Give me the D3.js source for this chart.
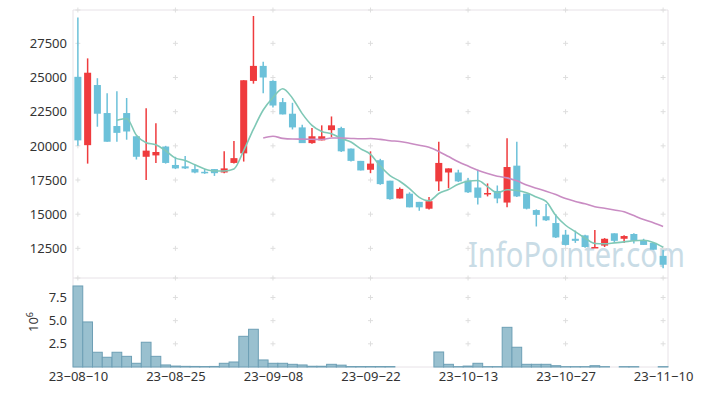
<!DOCTYPE html>
<html>
<head>
<meta charset="utf-8">
<script src="https://cdn.jsdelivr.net/npm/d3@7"></script>
<style>
  body { margin: 0; background: #fff; }
  svg { display: block; font-family: "Noto Sans", "Open Sans", sans-serif; }
</style>
</head>
<body>
<svg width="703" height="396"></svg>
<script>
var dates = [
  "23-08-10","23-08-11","23-08-14","23-08-16","23-08-17","23-08-18","23-08-21","23-08-22","23-08-23","23-08-24",
  "23-08-25","23-08-28","23-08-29","23-08-30","23-08-31","23-09-01","23-09-04","23-09-05","23-09-06","23-09-07",
  "23-09-08","23-09-11","23-09-12","23-09-13","23-09-14","23-09-15","23-09-18","23-09-19","23-09-20","23-09-21",
  "23-09-22","23-09-25","23-09-26","23-09-27","23-10-04","23-10-05","23-10-06","23-10-10","23-10-11","23-10-12",
  "23-10-13","23-10-16","23-10-17","23-10-18","23-10-19","23-10-20","23-10-23","23-10-24","23-10-25","23-10-26",
  "23-10-27","23-10-30","23-10-31","23-11-01","23-11-02","23-11-03","23-11-06","23-11-07","23-11-08","23-11-09",
  "23-11-10"
];

var opens = [
  25050,20050,24450,22400,21450,22400,20700,19200,19300,19950,
  18600,18500,18300,18100,18300,18050,18750,19450,24750,25850,
  24750,23200,22350,21350,20200,20400,21150,21300,19800,18900,
  18250,18950,17450,16150,16500,15900,15400,17400,18050,18050,
  17450,16950,16500,16700,15850,18550,16500,15300,14850,14350,
  13500,13200,13450,12550,12700,13600,13200,13550,13100,12900,
  11950
];
var highs = [
  29400,26400,24950,23850,24000,23500,20700,22750,21650,20000,
  19200,19250,18600,18300,18300,19600,20350,24800,29500,26150,
  24800,23500,23150,21550,21300,21500,22150,21400,19800,18900,
  19600,19050,17450,16950,16600,15900,16250,20300,18350,18250,
  17650,18250,17250,17100,20550,20300,16500,15350,15750,15000,
  13850,13800,13500,13850,13250,13600,13450,13600,13200,12950,
  12400
];
var lows = [
  20000,18700,21400,20300,20300,20450,19000,17500,18750,18700,
  18300,18300,18000,17950,17800,18000,18700,18850,24550,23850,
  22800,22300,21200,20200,20150,20400,20650,19550,18850,18200,
  18000,17150,16050,16150,15500,15250,15350,16700,16900,17350,
  16550,15700,16300,15800,15500,16250,15350,14100,14500,13250,
  12700,12900,12550,12550,12600,12900,12900,12850,12750,12400,
  11050
];
var closes = [
  20400,25350,22350,20300,20950,21050,19200,19650,19550,18750,
  18350,18350,18050,18050,18000,18350,19100,24800,25850,25000,
  22950,22300,21350,20200,20700,20700,21500,19600,18900,18200,
  18700,17200,16100,16850,15500,15500,15950,18750,18350,17400,
  16600,16200,16550,16150,18450,16300,15400,14950,14550,13300,
  12750,13050,12600,12600,13200,13050,13400,13050,12750,12400,
  11300
];
// volume, millions of shares
var volume = [
  8.74,4.86,1.59,1.05,1.59,1.15,0.40,2.67,1.15,0.22,
  0.10,0.07,0.06,0.05,0.06,0.40,0.54,3.31,4.07,0.76,
  0.40,0.40,0.29,0.22,0.08,0.08,0.29,0.20,0.05,0.05,
  0.05,0.05,0.05,0,0,0,0,1.62,0.29,0.04,
  0.10,0.40,0.04,0.04,4.28,2.13,0.29,0.29,0.29,0.14,
  0.04,0.04,0.04,0.14,0.04,0,0.04,0.04,0,0,
  0.04
];

var priceTicks = [12500, 15000, 17500, 20000, 22500, 25000, 27500];
var volTicks = [2.5, 5.0, 7.5];
var dateTicks = [0, 10, 20, 30, 40, 50, 60];

var svg = d3.select("svg"),
    plotLeft = 73, plotRight = 668,
    plotTop = 10, plotMid = 278, plotBottom = 367;

var n = dates.length;
var x = d3.scaleLinear().domain([-0.5, n - 0.5]).range([plotLeft, plotRight]);
var y = d3.scaleLinear().domain([10330, 29940]).range([plotMid, plotTop]);
var yv = d3.scaleLinear().domain([0, 9.6]).range([plotBottom, plotMid]);
var step = x(1) - x(0);

function movingAvg(vals, k) {
  return vals.map(function(v, i) {
    return i < k - 1 ? null : d3.mean(vals.slice(i - k + 1, i + 1));
  });
}
var ma5 = movingAvg(closes, 5),
    ma20 = movingAvg(closes, 20);

// watermark
svg.append("text")
    .attr("x", 468).attr("y", 267)
    .attr("font-size", 34)
    .attr("textLength", 217)
    .attr("lengthAdjust", "spacingAndGlyphs")
    .attr("fill", "#c9dce6")
    .text("InfoPointer.com");

// frame
var frame = svg.append("g").attr("stroke", "#e7e2e7").attr("fill", "none");
frame.append("path").attr("d", "M" + plotLeft + "," + plotBottom + "V" + plotTop + "H" + plotRight + "V" + plotBottom + "H" + plotLeft);
frame.append("line").attr("x1", plotLeft).attr("x2", plotRight).attr("y1", plotMid).attr("y2", plotMid);

// grid crosses
var crossY = priceTicks.map(y).concat(volTicks.map(yv)).concat([plotTop, plotMid]);
var crosses = [];
dateTicks.forEach(function(i) { crossY.forEach(function(cy) { crosses.push([x(i), cy]); }); });
svg.append("g")
    .attr("stroke", "#dedede")
  .selectAll("path")
  .data(crosses)
  .enter().append("path")
    .attr("d", function(d) { return "M" + (d[0] - 2.5) + "," + d[1] + "h5M" + d[0] + "," + (d[1] - 2.5) + "v5"; });

// candles
var up = "#ef3b3d", down = "#6cc1d9";
var candles = svg.append("g")
  .selectAll("g")
  .data(d3.range(n))
  .enter().append("g")
    .attr("fill", function(i) { return closes[i] >= opens[i] ? up : down; })
    .attr("stroke", function(i) { return closes[i] >= opens[i] ? up : down; });

candles.append("line")
    .attr("x1", function(i) { return x(i); })
    .attr("x2", function(i) { return x(i); })
    .attr("y1", function(i) { return y(highs[i]); })
    .attr("y2", function(i) { return y(lows[i]); })
    .attr("stroke-width", 1.5);

candles.append("rect")
    .attr("stroke", "none")
    .attr("x", function(i) { return x(i) - step * 0.36; })
    .attr("width", step * 0.72)
    .attr("y", function(i) { return y(Math.max(opens[i], closes[i])); })
    .attr("height", function(i) { return Math.max(1.5, Math.abs(y(opens[i]) - y(closes[i]))); });

// moving averages
var line = d3.line()
    .defined(function(d) { return d != null; })
    .x(function(d, i) { return x(i); })
    .y(function(d) { return y(d); })
    .curve(d3.curveMonotoneX);

svg.append("path").datum(ma5)
    .attr("fill", "none").attr("stroke", "#7fc8b6").attr("stroke-width", 1.6)
    .attr("d", line);
svg.append("path").datum(ma20)
    .attr("fill", "none").attr("stroke", "#c98cc3").attr("stroke-width", 1.6)
    .attr("d", line);

// volume
svg.append("g")
  .selectAll("rect")
  .data(volume)
  .enter().append("rect")
    .attr("x", function(d, i) { return x(i - 0.5); })
    .attr("width", step)
    .attr("y", function(d) { return yv(d); })
    .attr("height", function(d) { return yv(0) - yv(d); })
    .attr("fill", "#99c0cf")
    .attr("stroke", "#6d9fb5")
    .attr("stroke-width", 1);

// axes
var gy = svg.append("g")
    .attr("transform", "translate(" + plotLeft + ",0)")
    .call(d3.axisLeft(y).tickValues(priceTicks).tickSize(0).tickPadding(6).tickFormat(d3.format("d")));
var gv = svg.append("g")
    .attr("transform", "translate(" + plotLeft + ",0)")
    .call(d3.axisLeft(yv).tickValues(volTicks).tickSize(0).tickPadding(6).tickFormat(d3.format(".1f")));
var gx = svg.append("g")
    .attr("transform", "translate(0," + plotBottom + ")")
    .call(d3.axisBottom(x).tickValues(dateTicks).tickSize(0).tickPadding(5)
      .tickFormat(function(i) { return dates[i].replace(/-/g, "\u2212"); }));

[gy, gv, gx].forEach(function(g) {
  g.select(".domain").remove();
  g.selectAll("text")
      .attr("font-family", "'Noto Sans', sans-serif")
      .attr("font-size", 13)
      .attr("fill", "#333");
});

// volume unit label
var unit = svg.append("text")
    .attr("transform", "translate(38,332) rotate(-90)")
    .attr("font-size", 13)
    .attr("fill", "#333");
unit.append("tspan").text("10");
unit.append("tspan").attr("dy", -5).attr("font-size", 9).text("6");
</script>
</body>
</html>
